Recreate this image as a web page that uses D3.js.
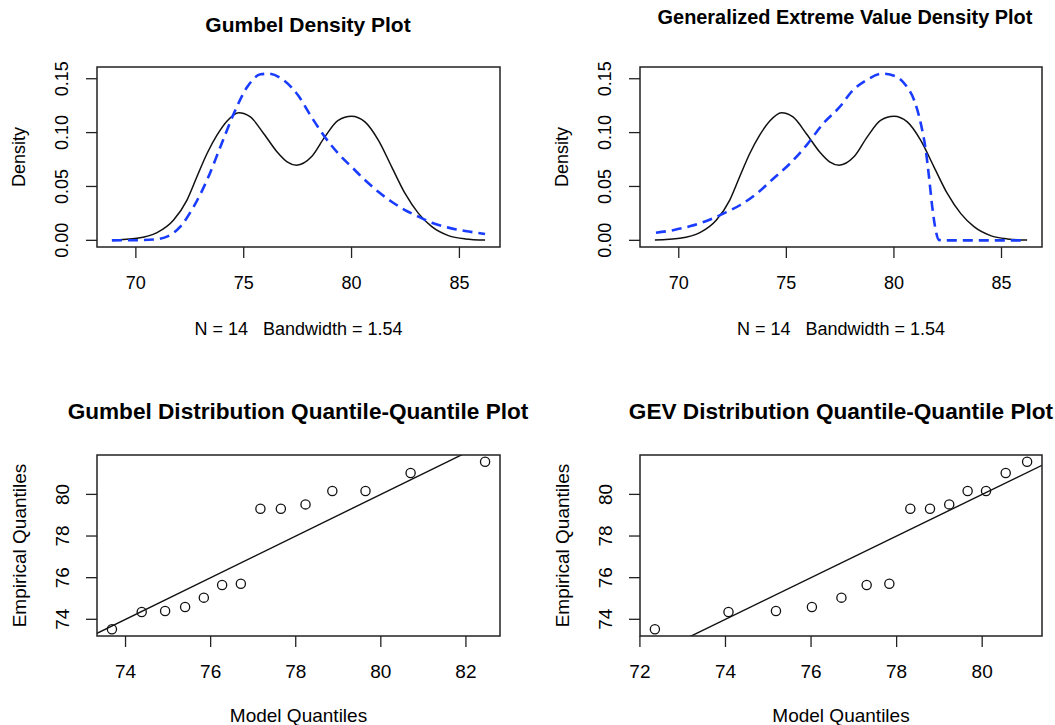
<!DOCTYPE html>
<html>
  <head>
    <script src="https://d3js.org/d3.v7.min.js"></script>
    <style>
      body { margin: 0; background: #fff; }
      text { font-family: "Liberation Sans", Arial, Helvetica, sans-serif; fill: #000; white-space: pre; }
    </style>
  </head>
  <body>
    <script>

    // kernel density of the observations (black line, same in both top panels)
    const kdeX = [68.89, 70.05, 70.98, 71.75, 72.37, 72.83, 73.30, 73.76, 74.23, 74.77, 75.31, 75.93, 76.55, 77.01,
                  77.45, 78.14, 78.76, 79.38, 80.00, 80.62, 81.24, 81.86, 82.48, 83.10, 83.72, 84.49, 85.27, 86.19];
    const kdeY = [0.0003, 0.0019, 0.0071, 0.0189, 0.0374, 0.059, 0.0806, 0.0976, 0.1108, 0.1185, 0.1145, 0.099, 0.082, 0.0729,
                  0.0698, 0.0775, 0.096, 0.1114, 0.1152, 0.1099, 0.093, 0.0682, 0.0435, 0.025, 0.0127, 0.0044, 0.0013, 0.0002];

    // fitted Gumbel density (blue dashed, top left)
    const gumX = [68.89, 70.0, 70.82, 71.44, 72.06, 72.68, 73.30, 73.92, 74.54, 75.16, 75.78, 76.15, 76.86, 77.52,
                  78.14, 78.76, 79.38, 80.00, 80.62, 81.24, 81.86, 82.48, 83.10, 83.72, 84.49, 85.27, 86.19];
    const gumY = [0.0000, 0.0001, 0.0008, 0.0034, 0.0127, 0.0312, 0.056, 0.0868, 0.1176, 0.1423, 0.1541, 0.1547, 0.1485, 0.1346,
                  0.1145, 0.096, 0.0806, 0.0682, 0.056, 0.0451, 0.0358, 0.0281, 0.022, 0.0164, 0.0118, 0.0087, 0.0059];

    // fitted GEV density (blue dashed, top right)
    const gevX = [68.94, 69.78, 70.55, 71.32, 72.09, 72.86, 73.63, 74.40, 75.17, 75.94, 76.71, 77.48, 78.09, 78.71,
                  79.47, 80.09, 80.55, 80.94, 81.25, 81.48, 81.63, 81.78, 81.94, 82.09, 82.3, 86.09];
    const gevY = [0.0071, 0.0096, 0.0133, 0.0182, 0.025, 0.0328, 0.0435, 0.0574, 0.0713, 0.0883, 0.1083, 0.1238, 0.1392, 0.1485,
                  0.1547, 0.1522, 0.1439, 0.130, 0.1083, 0.0837, 0.059, 0.0312, 0.0096, 0.0004, 0, 0];

    // QQ plots
    const empirical = [73.52, 74.35, 74.40, 74.59, 75.04, 75.65, 75.71, 79.31, 79.31, 79.52, 80.16, 80.16, 81.03, 81.57];
    const gumbelModel = [73.68, 74.38, 74.93, 75.40, 75.84, 76.27, 76.71, 77.17, 77.65, 78.23, 78.86, 79.64, 80.70, 82.45];
    const gevModel = [72.35, 74.07, 75.18, 76.02, 76.71, 77.30, 77.83, 78.32, 78.78, 79.23, 79.66, 80.09, 80.55, 81.05];

    const densTicksX = [70, 75, 80, 85];
    const densTicksY = [0, 0.05, 0.10, 0.15];
    const qqTicksGum = [74, 76, 78, 80, 82];
    const qqTicksGev = [72, 74, 76, 78, 80];
    const qqTicksY = [74, 76, 78, 80];

    const width = 1055, height = 725;
    const svg = d3.select("body").append("svg")
        .attr("width", width)
        .attr("height", height);

    // R style axis range: data range padded 4% on each side
    function rPad(ext) {
      const d = (ext[1] - ext[0]) * 0.04;
      return [ext[0] - d, ext[1] + d];
    }

    function panel(p) {
      const x = d3.scaleLinear().domain(rPad(p.xExt)).range([p.left, p.right]);
      const y = d3.scaleLinear().domain(rPad(p.yExt)).range([p.bottom, p.top]);
      const g = svg.append("g");
      const fs = p.fontSize + "px";
      const clipId = "clip" + Math.round(p.left) + Math.round(p.top);
      svg.append("clipPath").attr("id", clipId)
        .append("rect")
          .attr("x", p.left).attr("y", p.top)
          .attr("width", p.right - p.left).attr("height", p.bottom - p.top);

      // ticks
      g.selectAll(".xt").data(p.xTicks).enter().append("line")
        .attr("x1", d => x(d)).attr("x2", d => x(d))
        .attr("y1", p.bottom).attr("y2", p.bottom + 11)
        .attr("stroke", "#222").attr("stroke-width", 1.3);
      g.selectAll(".xl").data(p.xTicks).enter().append("text")
        .attr("x", d => x(d)).attr("y", p.bottom + 42)
        .attr("text-anchor", "middle")
        .style("font-size", fs)
        .text(d => p.xFmt(d));
      g.selectAll(".yt").data(p.yTicks).enter().append("line")
        .attr("x1", p.left - 11).attr("x2", p.left)
        .attr("y1", d => y(d)).attr("y2", d => y(d))
        .attr("stroke", "#222").attr("stroke-width", 1.3);
      g.selectAll(".yl").data(p.yTicks).enter().append("text")
        .attr("transform", d => `translate(${p.left - 35},${y(d)}) rotate(-90)`)
        .attr("text-anchor", "middle")
        .attr("dominant-baseline", "central")
        .style("font-size", fs)
        .text(d => p.yFmt(d));

      // labels
      g.append("text")
        .attr("x", p.titleX).attr("y", p.titleY)
        .attr("text-anchor", "middle")
        .attr("dominant-baseline", "central")
        .style("font-size", p.titleSize + "px").style("font-weight", "bold")
        .text(p.title);
      g.append("text")
        .attr("x", (p.left + p.right) / 2).attr("y", p.xLabY)
        .attr("text-anchor", "middle")
        .style("font-size", fs)
        .text(p.xLab);
      g.append("text")
        .attr("transform", `translate(${p.left - 78},${(p.top + p.bottom) / 2}) rotate(-90)`)
        .attr("text-anchor", "middle")
        .attr("dominant-baseline", "central")
        .style("font-size", fs)
        .text(p.yLab);

      const plot = g.append("g").attr("clip-path", `url(#${clipId})`);
      p.draw(plot, x, y);

      g.append("rect")
        .attr("x", p.left).attr("y", p.top)
        .attr("width", p.right - p.left).attr("height", p.bottom - p.top)
        .attr("fill", "none").attr("stroke", "#222").attr("stroke-width", 1.5);
    }

    function curve(plot, x, y, xs, ys, dashed) {
      const line = d3.line().x(i => x(xs[i])).y(i => y(ys[i])).curve(d3.curveMonotoneX);
      plot.append("path")
        .attr("d", line(d3.range(xs.length)))
        .attr("fill", "none")
        .attr("stroke", dashed ? "#1a3cff" : "#111")
        .attr("stroke-width", dashed ? 2.6 : 1.5)
        .attr("stroke-dasharray", dashed ? "10,6" : null);
    }

    const kdeExt = d3.extent(kdeX);
    const fmt2 = d3.format(".2f");

    panel({
      left: 97, right: 500, top: 67, bottom: 247, fontSize: 18,
      xExt: kdeExt, yExt: [0, d3.max(gumY)],
      xTicks: densTicksX, yTicks: densTicksY, xFmt: d => d, yFmt: fmt2,
      title: "Gumbel Density Plot", titleX: 308, titleY: 24, titleSize: 21,
      xLab: "N = 14   Bandwidth = 1.54", xLabY: 335, yLab: "Density",
      draw: (plot, x, y) => {
        curve(plot, x, y, kdeX, kdeY, false);
        curve(plot, x, y, gumX, gumY, true);
      }
    });

    panel({
      left: 640, right: 1042, top: 67, bottom: 247, fontSize: 18,
      xExt: kdeExt, yExt: [0, d3.max(gevY)],
      xTicks: densTicksX, yTicks: densTicksY, xFmt: d => d, yFmt: fmt2,
      title: "Generalized Extreme Value Density Plot", titleX: 845, titleY: 17, titleSize: 19.9,
      xLab: "N = 14   Bandwidth = 1.54", xLabY: 335, yLab: "Density",
      draw: (plot, x, y) => {
        curve(plot, x, y, kdeX, kdeY, false);
        curve(plot, x, y, gevX, gevY, true);
      }
    });

    function qq(plot, x, y, model) {
      const dom = x.domain();
      plot.append("line")
        .attr("x1", x(dom[0])).attr("y1", y(dom[0]))
        .attr("x2", x(dom[1])).attr("y2", y(dom[1]))
        .attr("stroke", "#111").attr("stroke-width", 1.4);
      plot.selectAll("circle").data(model).enter().append("circle")
        .attr("cx", d => x(d))
        .attr("cy", (d, i) => y(empirical[i]))
        .attr("r", 4.6)
        .attr("fill", "none").attr("stroke", "#111").attr("stroke-width", 1.3);
    }

    panel({
      left: 97, right: 500, top: 455, bottom: 636, fontSize: 19,
      xExt: d3.extent(gumbelModel), yExt: d3.extent(empirical),
      xTicks: qqTicksGum, yTicks: qqTicksY, xFmt: d => d, yFmt: d => d,
      title: "Gumbel Distribution Quantile-Quantile Plot", titleX: 298, titleY: 411, titleSize: 22.6,
      xLab: "Model Quantiles", xLabY: 722, yLab: "Empirical Quantiles",
      draw: (plot, x, y) => qq(plot, x, y, gumbelModel)
    });

    panel({
      left: 640, right: 1042, top: 455, bottom: 636, fontSize: 19,
      xExt: d3.extent(gevModel), yExt: d3.extent(empirical),
      xTicks: qqTicksGev, yTicks: qqTicksY, xFmt: d => d, yFmt: d => d,
      title: "GEV Distribution Quantile-Quantile Plot", titleX: 841, titleY: 411, titleSize: 22.6,
      xLab: "Model Quantiles", xLabY: 722, yLab: "Empirical Quantiles",
      draw: (plot, x, y) => qq(plot, x, y, gevModel)
    });

    </script>
  </body>
</html>
